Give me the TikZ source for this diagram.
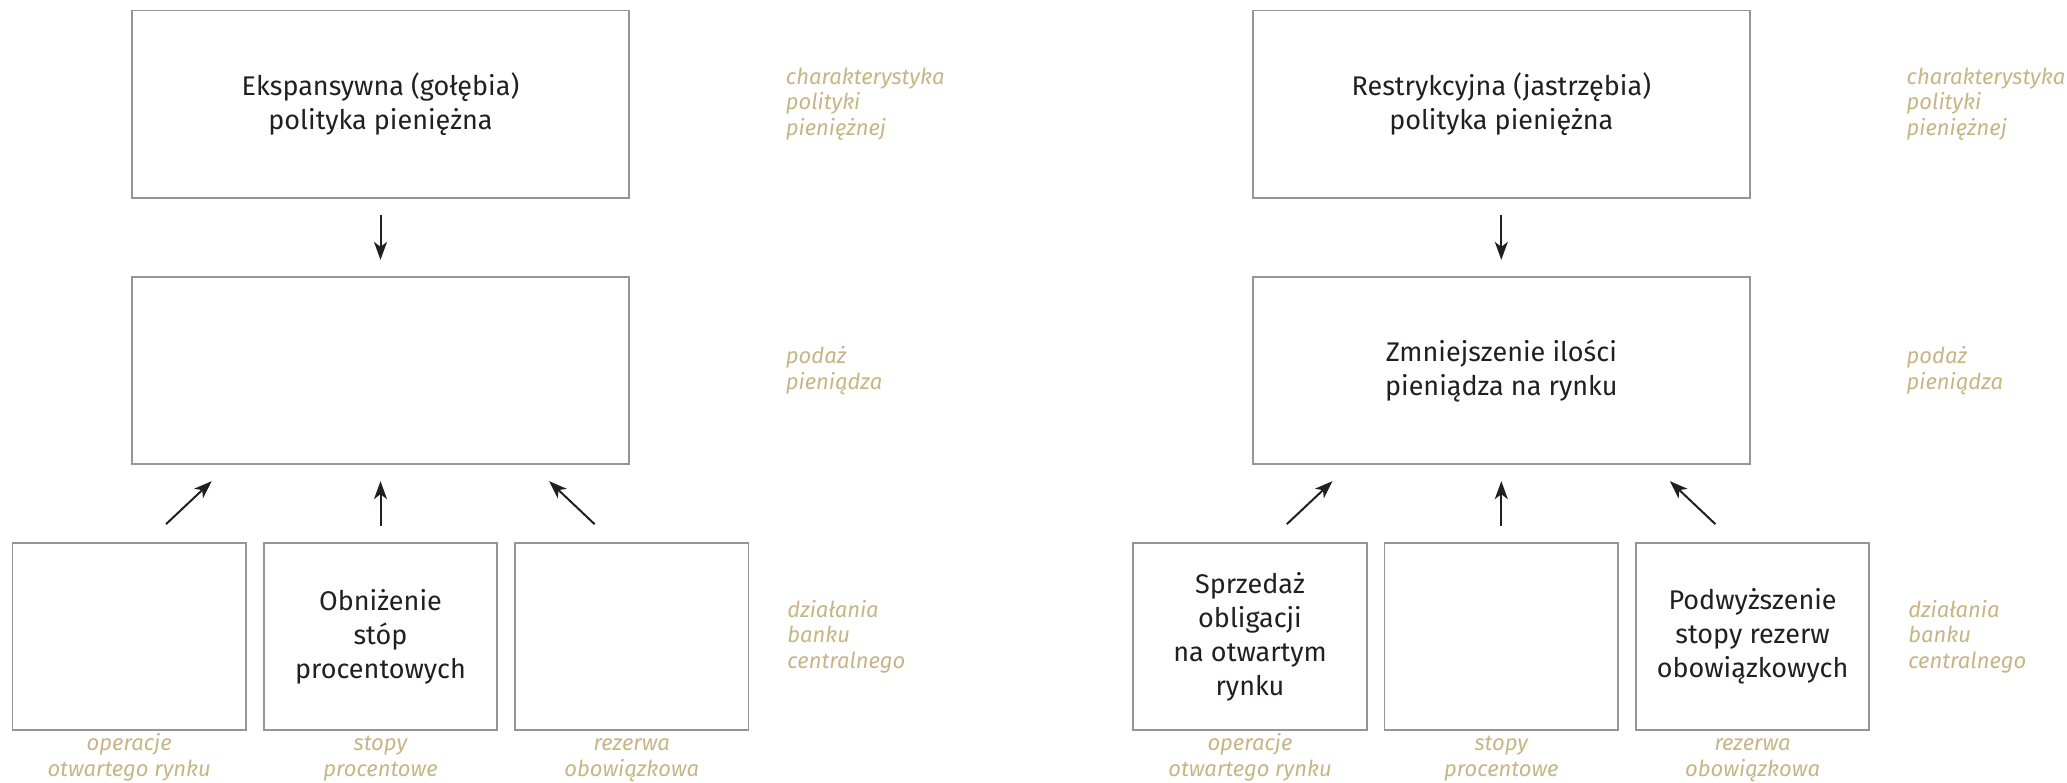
\documentclass[tikz,border=0pt]{standalone}
\usepackage{fontspec}
\setmainfont{Fira Sans}
\usepackage{tikz}
\usetikzlibrary{positioning,arrows.meta}

\definecolor{ink}{RGB}{35,31,32}
\definecolor{frame}{RGB}{150,150,150}
\definecolor{gold}{RGB}{199,181,133}

\begin{document}
\begin{tikzpicture}[-,>={Stealth[length=9pt,width=6.5pt,inset=2.5pt]}, line width=1pt,
	bigbox/.style={draw=frame, line width=0.9pt, minimum width=248.5pt, minimum height=93.75pt, align=center, text=ink, font=\fontsize{13.5}{17}\selectfont},
	smallbox/.style={draw=frame, line width=0.9pt, minimum width=116.75pt, minimum height=93.5pt, align=center, text=ink, font=\fontsize{13.5}{17}\selectfont},
	note/.style={inner sep=0pt, text=gold, align=left, font=\fontsize{11}{12.8}\selectfont\itshape},
	under/.style={note, align=center},
	arr/.style={->, draw=ink, shorten <=8pt, shorten >=8pt}]
	
	\useasboundingbox (0,0) rectangle (1033.5pt,-391pt);
	
	% ekspansywna
	\node [bigbox] (expL) at (190.25pt,-52.1pt) {Ekspansywna (gołębia)\\polityka pieniężna};
	\node [bigbox] (supL) [below=38.5pt of expL] {};
	\node [smallbox] (rateL) [below=38.5pt of supL] {Obniżenie\\stóp\\procentowych};
	\node [smallbox] (opsL) [left=8pt of rateL] {};
	\node [smallbox] (resL) [right=8pt of rateL] {};
	
	\node [note] (charL) [right=77.5pt of expL] {charakterystyka\\polityki\\pieniężnej};
	\node [note] (podL) [right=77.5pt of supL] {podaż\\pieniądza};
	\node [note] (bankL) [right=18.5pt of resL] {działania\\banku\\centralnego};
	\node [under] (opsLt) [below=0.3pt of opsL] {\strut operacje\\otwartego rynku};
	\node [under] (rateLt) [below=0.3pt of rateL] {\strut stopy\\procentowe};
	\node [under] (resLt) [below=0.3pt of resL] {\strut rezerwa\\obowiązkowa};
	
	% restrykcyjna
	\node [bigbox] (expR) [right=311pt of expL] {Restrykcyjna (jastrzębia)\\polityka pieniężna};
	\node [bigbox] (supR) [below=38.5pt of expR] {Zmniejszenie ilości\\pieniądza na rynku};
	\node [smallbox] (rateR) [below=38.5pt of supR] {};
	\node [smallbox] (opsR) [left=8pt of rateR] {Sprzedaż\\obligacji\\na otwartym\\rynku};
	\node [smallbox] (resR) [right=8pt of rateR] {Podwyższenie\\stopy rezerw\\obowiązkowych};
	
	\node [note] (charR) [right=77.5pt of expR] {charakterystyka\\polityki\\pieniężnej};
	\node [note] (podR) [right=77.5pt of supR] {podaż\\pieniądza};
	\node [note] (bankR) [right=18.5pt of resR] {działania\\banku\\centralnego};
	\node [under] (opsRt) [below=0.3pt of opsR] {\strut operacje\\otwartego rynku};
	\node [under] (rateRt) [below=0.3pt of rateR] {\strut stopy\\procentowe};
	\node [under] (resRt) [below=0.3pt of resR] {\strut rezerwa\\obowiązkowa};
	
	\path (expL) edge [arr] (supL);
	\path (rateL) edge [arr] (supL);
	\path ([xshift=18.4pt,yshift=9pt]opsL.north) edge [->, draw=ink] ([xshift=-84.4pt,yshift=-8pt]supL.south);
	\path ([xshift=-18.6pt,yshift=9pt]resL.north) edge [->, draw=ink] ([xshift=84.3pt,yshift=-8pt]supL.south);
	
	\path (expR) edge [arr] (supR);
	\path (rateR) edge [arr] (supR);
	\path ([xshift=18.4pt,yshift=9pt]opsR.north) edge [->, draw=ink] ([xshift=-84.4pt,yshift=-8pt]supR.south);
	\path ([xshift=-18.6pt,yshift=9pt]resR.north) edge [->, draw=ink] ([xshift=84.3pt,yshift=-8pt]supR.south);
\end{tikzpicture}
\end{document}
